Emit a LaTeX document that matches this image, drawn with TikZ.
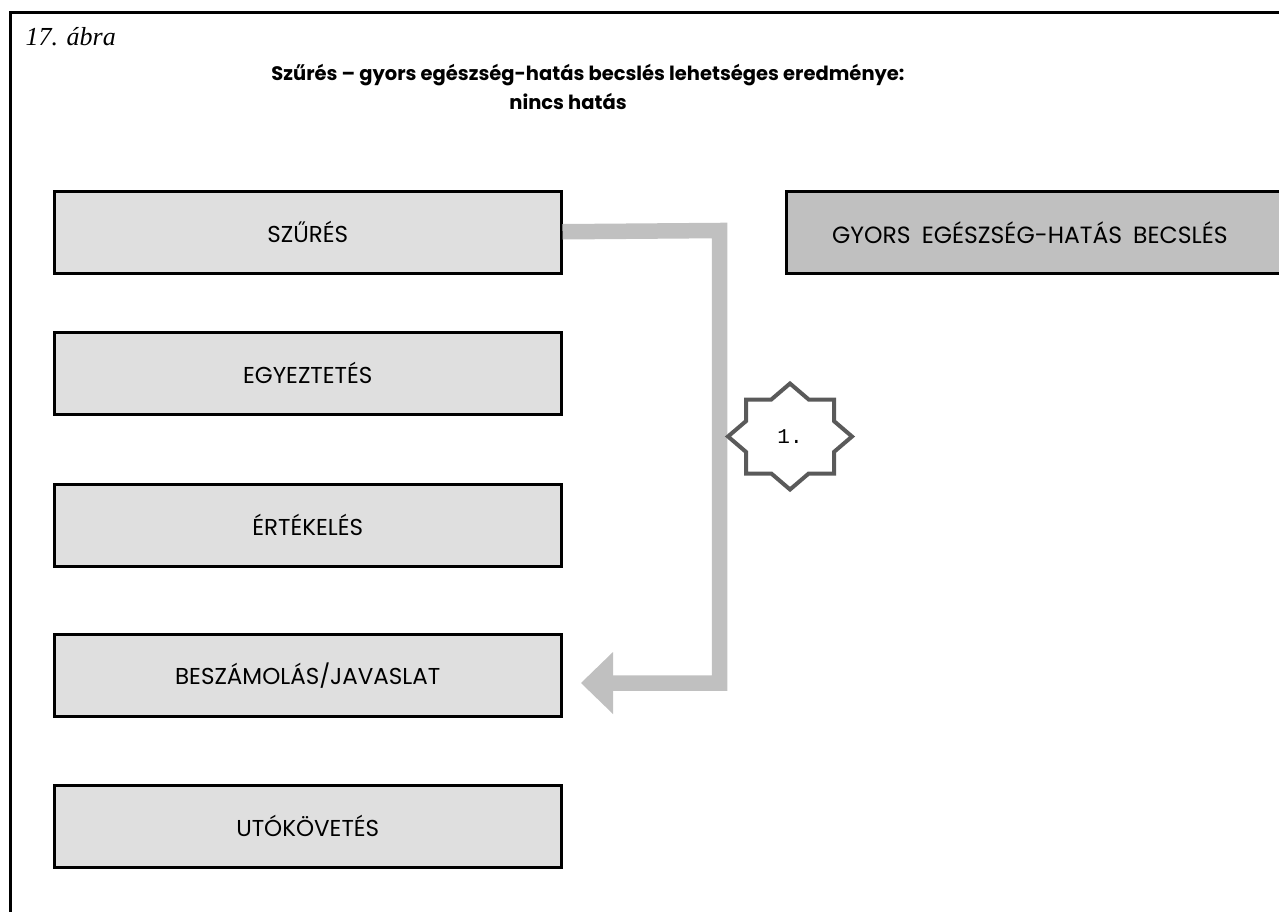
\documentclass[tikz,border=0pt]{standalone}
\usepackage{fontspec}
\setmainfont{Liberation Serif}
\newfontfamily\futura{Poppins}
\newfontfamily\monofnt{Liberation Mono}
\usetikzlibrary{arrows.meta,calc}
\definecolor{boxlight}{HTML}{DFDFDF}
\definecolor{boxdark}{HTML}{C0C0C0}
\definecolor{bandgray}{HTML}{C0C0C0}
\definecolor{starline}{HTML}{5A5A5A}
\begin{document}
\begin{tikzpicture}[x=1pt,y=-1pt,
  stagebox/.style={draw=black, line width=2.5pt, fill=boxlight, minimum width=507pt,
    minimum height=82pt, inner sep=0pt, anchor=north west,
    font=\futura\fontsize{23}{26}\selectfont},
  darkbox/.style={stagebox, fill=boxdark, minimum width=505pt},
  bandline/.style={draw=bandgray, line width=15.5pt, line join=miter},
  starpath/.style={draw=starline, line width=4pt, fill=white, line join=miter}]
\useasboundingbox (0,0) rectangle (1279,911);
% frame
\draw[line width=3pt] (10,930) -- (10,12) -- (1290,12);
% caption and title
\node[anchor=west, font=\itshape\fontsize{26}{28}\selectfont] (cap) at (22,37) {17. ábra};
\node[font=\futura\bfseries\fontsize{19.5}{23}\selectfont] (title1) at (588,75) {Szűrés – gyors egészség-hatás becslés lehetséges eredménye:};
\node[font=\futura\bfseries\fontsize{19.5}{23}\selectfont] (title2) at (568,101) {nincs hatás};
% stage boxes
\node[stagebox] (szures) at (53,190) {SZŰRÉS};
\node[stagebox] (egyez) at (53,331) {EGYEZTETÉS};
\node[stagebox] (ertek) at (53,483) {ÉRTÉKELÉS};
\node[stagebox] (besz) at (53,633) {BESZÁMOLÁS/JAVASLAT};
\node[stagebox] (uto) at (53,784) {UTÓKÖVETÉS};
\node[darkbox] (gyors) at (785,190) {};
\node[anchor=west, font=\futura\fontsize{23.5}{26}\selectfont, inner sep=0pt] (gyorstext) at ([xshift=47pt]gyors.west) {GYORS\hspace{11pt}EGÉSZSÉG-HATÁS\hspace{11pt}BECSLÉS};
% connector
\coordinate (bend1) at (719.5,230.5);
\coordinate (bend2) at (719.5,683);
\coordinate (tip) at (581,683);
\draw[bandline] ([yshift=0.5pt]szures.east) -- (bend1) -- (bend2) -- ([xshift=30pt]tip);
\fill[bandgray] (tip) -- (613,652) -- (613,714) -- cycle;
% star
\coordinate (sc) at (790,436.5);
\draw[starpath] ($(sc)+(0,-53)$) -- ++(18.7,16) -- ++(25.3,0) -- ++(0,21.6) -- ++(18,15.4)
  -- ++(-18,15.4) -- ++(0,21.6) -- ++(-25.3,0) -- ++(-18.7,16)
  -- ++(-18.7,-16) -- ++(-25.3,0) -- ++(0,-21.6) -- ++(-18,-15.4)
  -- ++(18,-15.4) -- ++(0,-21.6) -- ++(25.3,0) -- cycle;
\node[font=\monofnt\fontsize{21}{22}\selectfont] (one) at (sc) {1.};
\end{tikzpicture}
\end{document}
